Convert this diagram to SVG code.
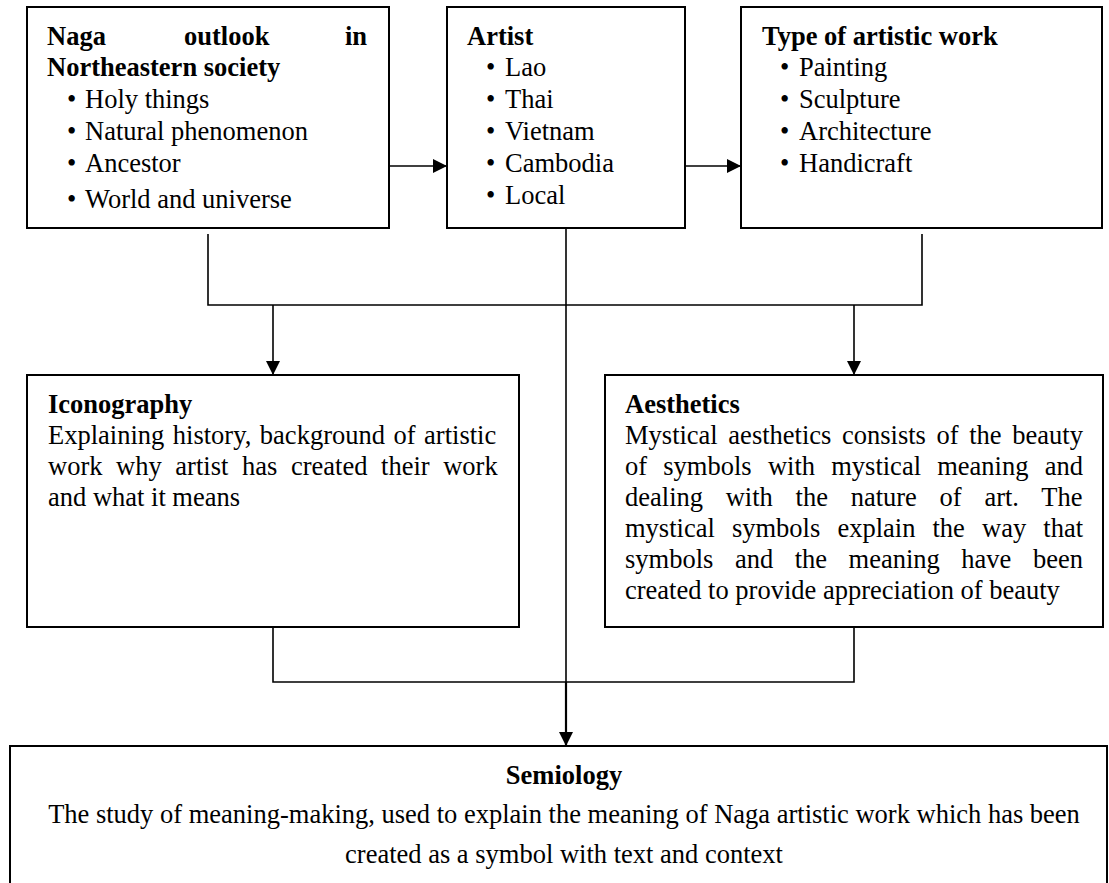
<svg xmlns="http://www.w3.org/2000/svg" width="1109" height="883" viewBox="0 0 1109 883">
<defs>
<style>
.box{fill:#fff;stroke:#000;stroke-width:2}
.con{fill:none;stroke:#000;stroke-width:1.6}
.t{font-family:"Liberation Serif","Times New Roman",serif;font-size:26.5px;fill:#000}
.b{font-weight:bold}
.c{text-anchor:middle}
</style>
<marker id="ah" viewBox="0 0 10 10" refX="10" refY="5" markerWidth="15" markerHeight="14" markerUnits="userSpaceOnUse" orient="auto">
<path d="M0,0 L10,5 L0,10 Z" fill="#000"/>
</marker>
</defs>
<rect width="1109" height="883" fill="#fff"/>

<g id="connectors">
<line class="con" x1="389" y1="166" x2="447" y2="166" marker-end="url(#ah)"/>
<line class="con" x1="685" y1="166" x2="741" y2="166" marker-end="url(#ah)"/>
<polyline class="con" points="208,234 208,305 922,305 922,234"/>
<line class="con" x1="273" y1="305" x2="273" y2="375" marker-end="url(#ah)"/>
<line class="con" x1="854" y1="305" x2="854" y2="375" marker-end="url(#ah)"/>
<polyline class="con" points="273,627 273,682 854,682 854,627"/>
<line class="con" x1="566" y1="228" x2="566" y2="682"/>
<line x1="566" y1="682" x2="566" y2="746" stroke="#000" stroke-width="2.2" marker-end="url(#ah)"/>
</g>

<g id="node-naga">
<rect class="box" x="27" y="7" width="362" height="221"/>
<text class="t b" x="47" y="45">Naga</text>
<text class="t b" x="184" y="45">outlook</text>
<text class="t b" x="345" y="45">in</text>
<text class="t b" x="47" y="76">Northeastern society</text>
<text class="t" x="67" y="108">•</text><text class="t" x="85" y="108">Holy things</text>
<text class="t" x="67" y="140">•</text><text class="t" x="85" y="140">Natural phenomenon</text>
<text class="t" x="67" y="172">•</text><text class="t" x="85" y="172">Ancestor</text>
<text class="t" x="67" y="208">•</text><text class="t" x="85" y="208">World and universe</text>
</g>

<g id="node-artist">
<rect class="box" x="447" y="7" width="238" height="221"/>
<text class="t b" x="467" y="45">Artist</text>
<text class="t" x="486" y="76">•</text><text class="t" x="505" y="76">Lao</text>
<text class="t" x="486" y="108">•</text><text class="t" x="505" y="108">Thai</text>
<text class="t" x="486" y="140">•</text><text class="t" x="505" y="140">Vietnam</text>
<text class="t" x="486" y="172">•</text><text class="t" x="505" y="172">Cambodia</text>
<text class="t" x="486" y="204">•</text><text class="t" x="505" y="204">Local</text>
</g>

<g id="node-type">
<rect class="box" x="741" y="7" width="361" height="221"/>
<text class="t b" x="762" y="45">Type of artistic work</text>
<text class="t" x="780" y="76">•</text><text class="t" x="799" y="76">Painting</text>
<text class="t" x="780" y="108">•</text><text class="t" x="799" y="108">Sculpture</text>
<text class="t" x="780" y="140">•</text><text class="t" x="799" y="140">Architecture</text>
<text class="t" x="780" y="172">•</text><text class="t" x="799" y="172">Handicraft</text>
</g>

<g id="node-iconography">
<rect class="box" x="27" y="375" width="492" height="252"/>
<text class="t b" x="48" y="413">Iconography</text>
<text class="t" x="48" y="444" word-spacing="1.9">Explaining history, background of artistic</text>
<text class="t" x="48" y="475" word-spacing="7">work why artist has created their work</text>
<text class="t" x="48" y="506">and what it means</text>
</g>

<g id="node-aesthetics">
<rect class="box" x="605" y="375" width="498" height="252"/>
<text class="t b" x="625" y="413">Aesthetics</text>
<text class="t" x="625" y="444" word-spacing="4">Mystical aesthetics consists of the beauty</text>
<text class="t" x="625" y="475" word-spacing="9.6">of symbols with mystical meaning and</text>
<text class="t" x="625" y="506" word-spacing="16.1">dealing with the nature of art. The</text>
<text class="t" x="625" y="537" word-spacing="10.5">mystical symbols explain the way that</text>
<text class="t" x="625" y="568" word-spacing="14.9">symbols and the meaning have been</text>
<text class="t" x="625" y="599">created to provide appreciation of beauty</text>
</g>

<g id="node-semiology">
<rect class="box" x="10" y="746" width="1097" height="160"/>
<text class="t b c" x="564" y="784">Semiology</text>
<text class="t c" x="564" y="823">The study of meaning-making, used to explain the meaning of Naga artistic work which has been</text>
<text class="t c" x="564" y="863">created as a symbol with text and context</text>
</g>
</svg>
